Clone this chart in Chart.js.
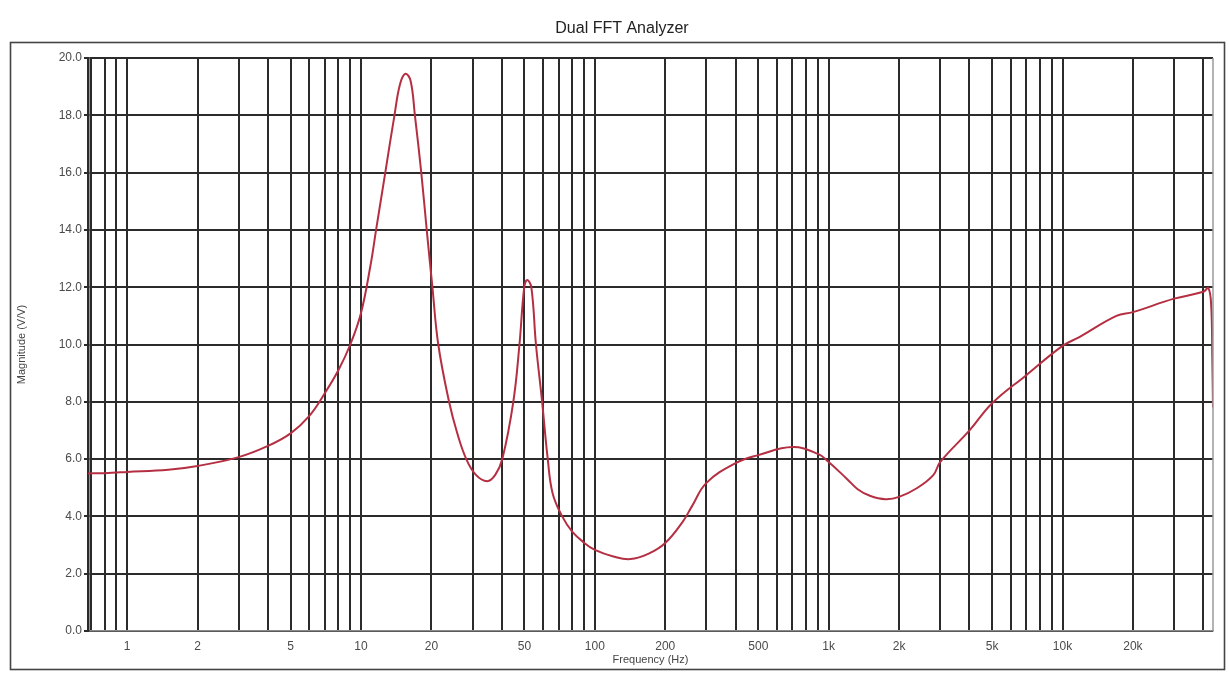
<!DOCTYPE html>
<html>
<head>
<meta charset="utf-8">
<title>Dual FFT Analyzer</title>
<script src="https://cdn.jsdelivr.net/npm/chart.js@4.4.1/dist/chart.umd.min.js"></script>
<style>
  html, body { margin: 0; padding: 0; background: #fff; overflow: hidden; }
  #wrap { width: 1229px; height: 673px; }
</style>
</head>
<body>
<div id="wrap"><canvas id="fft"></canvas></div>
<script>
/* ===== DATA ===== */
const FREQS = [
  0.68, 0.8, 1, 1.5, 2, 3, 4, 5, 6, 7, 8, 9, 10, 11, 11.6, 12.7, 13.9, 14.7, 15.5, 16.3,
  17, 18.1, 19.1, 20.2, 21.4, 23.8, 25.8, 28.2, 31, 34.6, 37.5, 40.2, 44.8, 47.6, 49.9,
  51.4, 53.5, 56, 59.5, 62.9, 66, 72.5, 80, 90, 100, 120, 142, 170, 200, 237, 260, 300, 400,
  500, 700, 900, 1000, 1200, 1330, 1500, 1750, 2000, 2400, 2800, 3000, 4000, 5000, 7000,
  10000, 11800, 17000, 20000, 30000, 40000, 42000, 43200, 43700, 44000
];
const MAGS = [
  5.50, 5.51, 5.55, 5.63, 5.76, 6.07, 6.46, 6.9, 7.5, 8.3, 9.1, 10.0, 11.1, 12.8, 14, 16, 18, 19.1, 19.45, 19.2,
  18, 16, 14, 12, 10, 8, 6.9, 6, 5.45, 5.23, 5.45, 6, 8, 10, 12,
  12.25, 12, 10, 8, 6, 4.8, 4.0, 3.47, 3.08, 2.83, 2.6, 2.51, 2.7, 3.07, 3.8, 4.35, 5.17, 5.86,
  6.14, 6.42, 6.18, 5.9, 5.3, 4.95, 4.72, 4.6, 4.68, 5.0, 5.44, 5.9, 7.0, 7.95, 8.93,
  9.95, 10.26, 11.0, 11.13, 11.6, 11.84, 11.97, 11.4, 9.5, 7.8
];

// grid lines at 1..9 x every decade
const MANTISSAS = [1, 2, 3, 4, 5, 6, 7, 8, 9];
const DECADES = [0.1, 1, 10, 100, 1000, 10000];
const TICK_LABELS = {
  1: "1", 2: "2", 5: "5", 10: "10", 20: "20", 50: "50",
  100: "100", 200: "200", 500: "500", 1000: "1k", 2000: "2k",
  5000: "5k", 10000: "10k", 20000: "20k"
};
const X_MIN = 0.68;
const X_MAX = 44000;

const gridValues = [];
DECADES.forEach((d) => {
  MANTISSAS.forEach((m) => {
    const v = +(m * d).toPrecision(3);
    if (v > X_MIN && v < X_MAX) gridValues.push(v);
  });
});

/* ===== PLUGINS ===== */
const framePlugin = {
  id: "frame",
  beforeDraw(chart) {
    const ctx = chart.ctx;
    ctx.save();
    ctx.fillStyle = "#fff";
    ctx.fillRect(0, 0, chart.width, chart.height);
    ctx.strokeStyle = "#444";
    ctx.lineWidth = 1.6;
    ctx.strokeRect(10.5, 42.5, 1214, 627);
    ctx.restore();
  },
  afterDraw(chart) {
    const a = chart.chartArea;
    const ctx = chart.ctx;
    ctx.save();
    ctx.strokeStyle = "#9a9a9a";
    ctx.lineWidth = 1.5;
    ctx.beginPath();
    ctx.moveTo(a.right, a.top);
    ctx.lineTo(a.right, a.bottom);
    ctx.stroke();
    ctx.restore();
  }
};

/* ===== CHART ===== */
const FONT = "'Liberation Sans', Arial, sans-serif";

new Chart(document.getElementById("fft"), {
  type: "line",
  data: {
    datasets: [
      {
        data: FREQS.map((f, i) => ({ x: f, y: MAGS[i] })),
        borderColor: "#b52f42",
        borderWidth: 2,
        pointRadius: 0,
        tension: 0.4,
        fill: false
      }
    ]
  },
  options: {
    responsive: true,
    maintainAspectRatio: false,
    animation: false,
    layout: { padding: { left: 15, right: 0, top: 0, bottom: 0 } },
    plugins: {
      legend: { display: false },
      tooltip: { enabled: false },
      title: {
        display: true,
        text: "Dual FFT Analyzer",
        color: "#222",
        font: { family: FONT, size: 16, weight: "normal" },
        padding: { top: 19, bottom: 19.8 }
      }
    },
    scales: {
      x: {
        type: "logarithmic",
        min: X_MIN,
        max: X_MAX,
        afterBuildTicks: (scale) => {
          scale.ticks = gridValues.map((v) => ({ value: v }));
        },
        afterFit: (scale) => {
          scale.height = 42;
          scale.paddingRight = 16;
        },
        grid: { color: "#2b2b2b", lineWidth: 2, drawTicks: false },
        border: { color: "#8a8a8a", width: 1.5 },
        ticks: {
          autoSkip: false,
          maxRotation: 0,
          padding: 8,
          color: "#4a4a4a",
          font: { family: FONT, size: 12 },
          callback: (v) => TICK_LABELS[v] || ""
        },
        title: {
          display: true,
          text: "Frequency (Hz)",
          color: "#444",
          font: { family: FONT, size: 11 },
          padding: { top: 0, bottom: 6.4 }
        }
      },
      y: {
        min: 0,
        max: 20,
        afterFit: (scale) => {
          scale.width = 73;
        },
        grid: { color: "#2b2b2b", lineWidth: 2, tickLength: 4 },
        border: { color: "#2b2b2b", width: 2.5 },
        ticks: {
          stepSize: 2,
          padding: 2,
          color: "#4a4a4a",
          font: { family: FONT, size: 12 },
          callback: (v) => v.toFixed(1)
        },
        title: {
          display: true,
          text: "Magnitude (V/V)",
          color: "#444",
          font: { family: FONT, size: 11 },
          padding: { top: 0.5, bottom: 0 }
        }
      }
    }
  },
  plugins: [framePlugin]
});
</script>
</body>
</html>
